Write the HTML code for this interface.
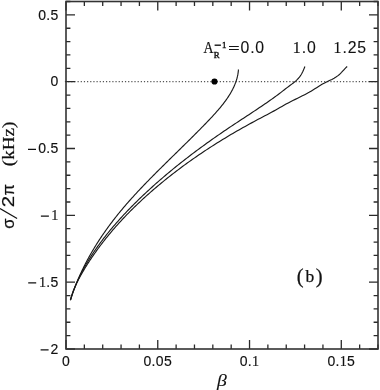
<!DOCTYPE html>
<html><head><meta charset="utf-8"><title>plot</title>
<style>html,body{margin:0;padding:0;background:#fff;width:380px;height:390px;overflow:hidden}svg{display:block;will-change:transform}</style>
</head><body><svg width="380" height="390" viewBox="0 0 380 390"><rect width="380" height="390" fill="#fff"/><path d="M64.9 81.69H377.00" stroke="#555" stroke-width="1.2" stroke-dasharray="1.2 1.9605" fill="none"/><path d="M66.00 349.00V340.00M66.00 1.50V10.50M84.35 349.00V344.60M84.35 1.50V5.90M102.71 349.00V344.60M102.71 1.50V5.90M121.06 349.00V344.60M121.06 1.50V5.90M139.41 349.00V344.60M139.41 1.50V5.90M157.76 349.00V340.00M157.76 1.50V10.50M176.12 349.00V344.60M176.12 1.50V5.90M194.47 349.00V344.60M194.47 1.50V5.90M212.82 349.00V344.60M212.82 1.50V5.90M231.18 349.00V344.60M231.18 1.50V5.90M249.53 349.00V340.00M249.53 1.50V10.50M267.88 349.00V344.60M267.88 1.50V5.90M286.24 349.00V344.60M286.24 1.50V5.90M304.59 349.00V344.60M304.59 1.50V5.90M322.94 349.00V344.60M322.94 1.50V5.90M341.29 349.00V340.00M341.29 1.50V10.50M359.65 349.00V344.60M359.65 1.50V5.90M378.00 349.00V344.60M378.00 1.50V5.90M66.00 349.00H75.00M378.00 349.00H369.00M66.00 335.63H70.40M378.00 335.63H373.60M66.00 322.27H70.40M378.00 322.27H373.60M66.00 308.90H70.40M378.00 308.90H373.60M66.00 295.54H70.40M378.00 295.54H373.60M66.00 282.17H75.00M378.00 282.17H369.00M66.00 268.81H70.40M378.00 268.81H373.60M66.00 255.44H70.40M378.00 255.44H373.60M66.00 242.08H70.40M378.00 242.08H373.60M66.00 228.71H70.40M378.00 228.71H373.60M66.00 215.35H75.00M378.00 215.35H369.00M66.00 201.98H70.40M378.00 201.98H373.60M66.00 188.62H70.40M378.00 188.62H373.60M66.00 175.25H70.40M378.00 175.25H373.60M66.00 161.88H70.40M378.00 161.88H373.60M66.00 148.52H75.00M378.00 148.52H369.00M66.00 135.15H70.40M378.00 135.15H373.60M66.00 121.79H70.40M378.00 121.79H373.60M66.00 108.42H70.40M378.00 108.42H373.60M66.00 95.06H70.40M378.00 95.06H373.60M66.00 81.69H75.00M378.00 81.69H369.00M66.00 68.33H70.40M378.00 68.33H373.60M66.00 54.96H70.40M378.00 54.96H373.60M66.00 41.60H70.40M378.00 41.60H373.60M66.00 28.23H70.40M378.00 28.23H373.60M66.00 14.87H75.00M378.00 14.87H369.00M66.00 1.50H70.40M378.00 1.50H373.60" stroke="#2a2a2a" stroke-width="1.3" fill="none"/><rect x="66.0" y="1.5" width="312.0" height="347.5" stroke="#333" stroke-width="1.6" fill="none"/><path d="M70.40 300.20L70.76 299.04L71.13 297.88L71.51 296.72L71.90 295.56L72.29 294.40L72.70 293.24L73.11 292.08L73.52 290.93L73.95 289.77L74.38 288.61L74.82 287.45L75.26 286.29L75.72 285.13L76.18 283.97L76.64 282.81L77.12 281.65L77.60 280.49L78.09 279.33L78.59 278.17L79.10 277.01L79.61 275.85L80.13 274.70L80.66 273.54L81.20 272.38L81.74 271.22L82.29 270.06L82.85 268.90L83.42 267.74L83.99 266.58L84.57 265.42L85.16 264.26L85.76 263.10L86.36 261.94L86.97 260.78L87.59 259.62L88.22 258.47L88.86 257.31L89.50 256.15L90.15 254.99L90.81 253.83L91.48 252.67L92.15 251.51L92.83 250.35L93.52 249.19L94.22 248.03L94.92 246.87L95.64 245.71L96.36 244.55L97.09 243.39L97.82 242.24L98.57 241.08L99.32 239.92L100.08 238.76L100.85 237.60L101.63 236.44L102.41 235.28L103.20 234.12L104.00 232.96L104.81 231.80L105.63 230.64L106.45 229.48L107.28 228.32L108.13 227.16L108.97 226.01L109.83 224.85L110.69 223.69L111.57 222.53L112.45 221.37L113.34 220.21L114.23 219.05L115.14 217.89L116.05 216.73L116.97 215.57L117.90 214.41L118.84 213.25L119.79 212.09L120.74 210.93L121.70 209.77L122.67 208.62L123.65 207.46L124.64 206.30L125.64 205.14L126.64 203.98L127.65 202.82L128.67 201.66L129.70 200.50L130.73 199.34L131.77 198.18L132.82 197.02L133.88 195.86L134.94 194.70L136.01 193.54L137.08 192.39L138.16 191.23L139.25 190.07L140.34 188.91L141.44 187.75L142.55 186.59L143.66 185.43L144.77 184.27L145.89 183.11L147.01 181.95L148.14 180.79L149.28 179.63L150.41 178.47L151.55 177.31L152.70 176.16L153.85 175.00L155.00 173.84L156.15 172.68L157.31 171.52L158.47 170.36L159.64 169.20L160.80 168.04L161.97 166.88L163.14 165.72L164.32 164.56L165.49 163.40L166.67 162.24L167.84 161.08L169.02 159.93L170.20 158.77L171.38 157.61L172.57 156.45L173.75 155.29L174.93 154.13L176.11 152.97L177.30 151.81L178.48 150.65L179.66 149.49L180.84 148.33L182.02 147.17L183.20 146.01L184.38 144.85L185.56 143.69L186.73 142.54L187.91 141.38L189.08 140.22L190.25 139.06L191.42 137.90L192.59 136.74L193.75 135.58L194.91 134.42L196.07 133.26L197.22 132.10L198.37 130.94L199.52 129.78L200.67 128.62L201.81 127.46L202.94 126.31L204.07 125.15L205.20 123.99L206.32 122.83L207.44 121.67L208.55 120.51L209.65 119.35L210.75 118.19L211.83 117.03L212.90 115.87L213.96 114.71L215.01 113.55L216.05 112.39L217.07 111.23L218.08 110.08L219.07 108.92L220.04 107.76L221.00 106.60L221.94 105.44L222.86 104.28L223.76 103.12L224.63 101.96L225.49 100.80L226.32 99.64L227.13 98.48L227.91 97.32L228.67 96.16L229.41 95.00L230.12 93.85L230.80 92.69L231.46 91.53L232.09 90.37L232.70 89.21L233.27 88.05L233.82 86.89L234.34 85.73L234.83 84.57L235.29 83.41L235.73 82.25L236.13 81.09L236.50 79.93L236.85 78.77L237.16 77.62L237.44 76.46L237.68 75.30L237.90 74.14L238.08 72.98L238.23 71.82L238.35 70.66L238.43 69.50" stroke="#1a1a1a" stroke-width="1.15" fill="none" stroke-linejoin="round"/><path d="M70.39 300.20L70.74 299.03L71.10 297.85L71.48 296.68L71.86 295.50L72.26 294.33L72.67 293.15L73.08 291.98L73.51 290.81L73.96 289.63L74.41 288.46L74.87 287.28L75.35 286.11L75.83 284.93L76.33 283.76L76.84 282.58L77.36 281.41L77.89 280.24L78.43 279.06L78.98 277.89L79.55 276.71L80.12 275.54L80.70 274.36L81.30 273.19L81.91 272.02L82.52 270.84L83.15 269.67L83.79 268.49L84.44 267.32L85.10 266.14L85.77 264.97L86.45 263.79L87.14 262.62L87.84 261.45L88.55 260.27L89.27 259.10L90.01 257.92L90.75 256.75L91.50 255.57L92.27 254.40L93.04 253.23L93.82 252.05L94.62 250.88L95.42 249.70L96.24 248.53L97.06 247.35L97.89 246.18L98.74 245.00L99.59 243.83L100.46 242.66L101.33 241.48L102.21 240.31L103.11 239.13L104.01 237.96L104.92 236.78L105.85 235.61L106.78 234.44L107.72 233.26L108.67 232.09L109.63 230.91L110.60 229.74L111.58 228.56L112.57 227.39L113.57 226.21L114.58 225.04L115.60 223.87L116.63 222.69L117.66 221.52L118.71 220.34L119.76 219.17L120.83 217.99L121.90 216.82L122.98 215.65L124.08 214.47L125.18 213.30L126.29 212.12L127.41 210.95L128.53 209.77L129.67 208.60L130.82 207.42L131.97 206.25L133.13 205.08L134.31 203.90L135.49 202.73L136.68 201.55L137.87 200.38L139.08 199.20L140.30 198.03L141.52 196.86L142.75 195.68L144.00 194.51L145.25 193.33L146.51 192.16L147.77 190.98L149.05 189.81L150.33 188.63L151.63 187.46L152.93 186.29L154.24 185.11L155.56 183.94L156.89 182.76L158.23 181.59L159.58 180.41L160.93 179.24L162.29 178.07L163.67 176.89L165.05 175.72L166.44 174.54L167.84 173.37L169.25 172.19L170.66 171.02L172.09 169.84L173.52 168.67L174.97 167.50L176.42 166.32L177.88 165.15L179.35 163.97L180.83 162.80L182.32 161.62L183.81 160.45L185.32 159.28L186.83 158.10L188.35 156.93L189.89 155.75L191.43 154.58L192.98 153.40L194.54 152.23L196.10 151.05L197.68 149.88L199.27 148.71L200.86 147.53L202.47 146.36L204.08 145.18L205.70 144.01L207.33 142.83L208.97 141.66L210.62 140.49L212.28 139.31L213.94 138.14L215.62 136.96L217.30 135.79L219.00 134.61L220.70 133.44L222.41 132.26L224.13 131.09L225.86 129.92L227.60 128.74L229.35 127.57L231.11 126.39L232.87 125.22L234.64 124.04L236.42 122.87L238.20 121.70L239.98 120.52L241.77 119.35L243.56 118.17L245.35 117.00L247.14 115.82L248.92 114.65L250.70 113.47L252.48 112.30L254.25 111.13L256.02 109.95L257.78 108.78L259.53 107.60L261.27 106.43L263.00 105.25L264.72 104.08L266.42 102.91L268.12 101.73L269.79 100.56L271.45 99.38L273.10 98.21L274.72 97.03L276.33 95.86L277.91 94.68L279.48 93.51L281.02 92.34L282.55 91.16L284.06 89.99L285.58 88.81L287.10 87.64L288.64 86.46L290.20 85.29L291.78 84.12L293.32 82.94L294.79 81.77L296.16 80.59L297.38 79.42L298.48 78.24L299.45 77.07L300.32 75.89L301.09 74.72L301.78 73.55L302.40 72.37L302.96 71.20L303.48 70.02L303.97 68.85L304.43 67.67L304.89 66.50" stroke="#1a1a1a" stroke-width="1.15" fill="none" stroke-linejoin="round"/><path d="M70.49 300.20L70.76 299.03L71.06 297.85L71.38 296.68L71.73 295.50L72.10 294.33L72.49 293.15L72.91 291.98L73.35 290.81L73.80 289.63L74.28 288.46L74.78 287.28L75.29 286.11L75.83 284.93L76.38 283.76L76.94 282.58L77.53 281.41L78.12 280.24L78.74 279.06L79.36 277.89L80.00 276.71L80.65 275.54L81.31 274.36L81.99 273.19L82.67 272.02L83.36 270.84L84.06 269.67L84.77 268.49L85.49 267.32L86.21 266.14L86.95 264.97L87.69 263.79L88.44 262.62L89.20 261.45L89.97 260.27L90.75 259.10L91.54 257.92L92.33 256.75L93.13 255.57L93.95 254.40L94.77 253.23L95.60 252.05L96.44 250.88L97.28 249.70L98.14 248.53L99.01 247.35L99.88 246.18L100.77 245.00L101.66 243.83L102.56 242.66L103.47 241.48L104.39 240.31L105.32 239.13L106.26 237.96L107.21 236.78L108.17 235.61L109.14 234.44L110.11 233.26L111.10 232.09L112.10 230.91L113.10 229.74L114.12 228.56L115.14 227.39L116.18 226.21L117.22 225.04L118.28 223.87L119.34 222.69L120.42 221.52L121.50 220.34L122.59 219.17L123.70 217.99L124.81 216.82L125.94 215.65L127.07 214.47L128.21 213.30L129.37 212.12L130.53 210.95L131.71 209.77L132.89 208.60L134.09 207.42L135.30 206.25L136.51 205.08L137.74 203.90L138.98 202.73L140.23 201.55L141.48 200.38L142.75 199.20L144.03 198.03L145.32 196.86L146.63 195.68L147.94 194.51L149.26 193.33L150.60 192.16L151.94 190.98L153.30 189.81L154.66 188.63L156.04 187.46L157.43 186.29L158.83 185.11L160.24 183.94L161.66 182.76L163.10 181.59L164.54 180.41L166.00 179.24L167.46 178.07L168.94 176.89L170.43 175.72L171.93 174.54L173.45 173.37L174.97 172.19L176.51 171.02L178.06 169.84L179.62 168.67L181.19 167.50L182.78 166.32L184.37 165.15L185.98 163.97L187.61 162.80L189.25 161.62L190.90 160.45L192.56 159.28L194.24 158.10L195.93 156.93L197.63 155.75L199.35 154.58L201.08 153.40L202.83 152.23L204.59 151.05L206.37 149.88L208.16 148.71L209.96 147.53L211.78 146.36L213.62 145.18L215.47 144.01L217.34 142.83L219.22 141.66L221.12 140.49L223.03 139.31L224.96 138.14L226.91 136.96L228.87 135.79L230.85 134.61L232.85 133.44L234.86 132.26L236.89 131.09L238.94 129.92L241.00 128.74L243.09 127.57L245.19 126.39L247.31 125.22L249.44 124.04L251.60 122.87L253.77 121.70L255.96 120.52L258.17 119.35L260.39 118.17L262.62 117.00L264.84 115.82L267.06 114.65L269.27 113.47L271.46 112.30L273.63 111.13L275.76 109.95L277.86 108.78L279.91 107.60L281.93 106.43L283.95 105.25L286.04 104.08L288.24 102.91L290.52 101.73L292.86 100.56L295.24 99.38L297.64 98.21L300.03 97.03L302.38 95.86L304.69 94.68L306.91 93.51L309.04 92.34L311.05 91.16L312.96 89.99L314.82 88.81L316.66 87.64L318.52 86.46L320.45 85.29L322.47 84.12L324.63 82.94L326.97 81.77L329.45 80.59L331.89 79.42L334.10 78.24L336.01 77.07L337.66 75.89L339.10 74.72L340.37 73.55L341.52 72.37L342.61 71.20L343.67 70.02L344.75 68.85L345.91 67.67L347.19 66.50" stroke="#1a1a1a" stroke-width="1.15" fill="none" stroke-linejoin="round"/><circle cx="214.5" cy="81.5" r="3.1" fill="#000"/><g font-family='"Liberation Sans", sans-serif' font-size="14.0" fill="#111" stroke="#111" stroke-width="0.15" letter-spacing="0.3"><text x="58.6" y="19.67" text-anchor="end">0.5</text><text x="58.6" y="86.49" text-anchor="end">0</text><text x="58.6" y="153.32" text-anchor="end">0.5</text><text x="58.6" y="220.15" text-anchor="end"><tspan font-family='"Liberation Serif", serif' font-size="14.2">1</tspan></text><text x="58.6" y="286.97" text-anchor="end"><tspan font-family='"Liberation Serif", serif' font-size="14.2">1</tspan>.5</text><text x="58.6" y="353.80" text-anchor="end">2</text><text x="66.00" y="365.8" text-anchor="middle">0</text><text x="157.76" y="365.8" text-anchor="middle">0.05</text><text x="249.53" y="365.8" text-anchor="middle">0.<tspan font-family='"Liberation Serif", serif' font-size="14.2">1</tspan></text><text x="341.29" y="365.8" text-anchor="middle">0.<tspan font-family='"Liberation Serif", serif' font-size="14.2">1</tspan>5</text></g><path d="M28.00 149.32h8M40.90 216.15h8M28.20 282.97h8M40.60 349.80h8" stroke="#111" stroke-width="1.3" fill="none"/><g font-family='"Liberation Sans", sans-serif' font-size="15.8" fill="#111" stroke="#111" stroke-width="0.1" letter-spacing="0.8"><text x="240.6" y="52.7">0.0</text><text x="292.6" y="52.7"><tspan font-family='"Liberation Serif", serif' font-size="16.8">1</tspan>.0</text><text x="333.3" y="52.7"><tspan font-family='"Liberation Serif", serif' font-size="16.8">1</tspan>.25</text></g><path d="M229 46.45h9.8M229 49.45h9.8" stroke="#151515" stroke-width="1.1" fill="none"/><path d="M214.6 45.2h6.3" stroke="#151515" stroke-width="1.4" fill="none"/><g font-family='"Liberation Serif", serif' fill="#111" stroke="#111" stroke-width="0.2"><text x="203.6" y="52.6" font-size="16.5" textLength="10" lengthAdjust="spacingAndGlyphs">A</text><text x="213.8" y="57.9" font-size="8.8" stroke-width="0.4">R</text><text x="222.0" y="48.0" font-size="8.8" stroke-width="0.4">1</text></g><g font-family='"Liberation Serif", serif' fill="#111" stroke="#111" stroke-width="0.25"><text x="296.8" y="283.2" font-size="20.5">(</text><text x="305.5" y="282.1" font-size="17.5">b</text><text x="315.8" y="283.2" font-size="20.5">)</text></g><text x="216.9" y="386.3" font-family='"Liberation Serif", serif' font-style="italic" font-size="17" fill="#111" stroke="#111" stroke-width="0.1" textLength="9.8" lengthAdjust="spacingAndGlyphs">β</text><g transform="translate(14.1 228.8) rotate(-90)" fill="#111" stroke="#111" stroke-width="0.2"><text x="0" y="0" font-family='"Liberation Sans", sans-serif' font-size="16.5">σ</text><path d="M10.3 3.0L20.3 -14.1" stroke="#111" stroke-width="1.2"/><text x="21.6" y="0" font-family='"Liberation Sans", sans-serif' font-size="16.5" textLength="11.4" lengthAdjust="spacingAndGlyphs">2</text><text x="33.2" y="0" font-family='"Liberation Sans", sans-serif' font-size="16.5">π</text><text x="62.6" y="0" font-family='"Liberation Serif", serif' font-size="17.5" textLength="44.6" lengthAdjust="spacingAndGlyphs">(kHz)</text></g></svg></body></html>
